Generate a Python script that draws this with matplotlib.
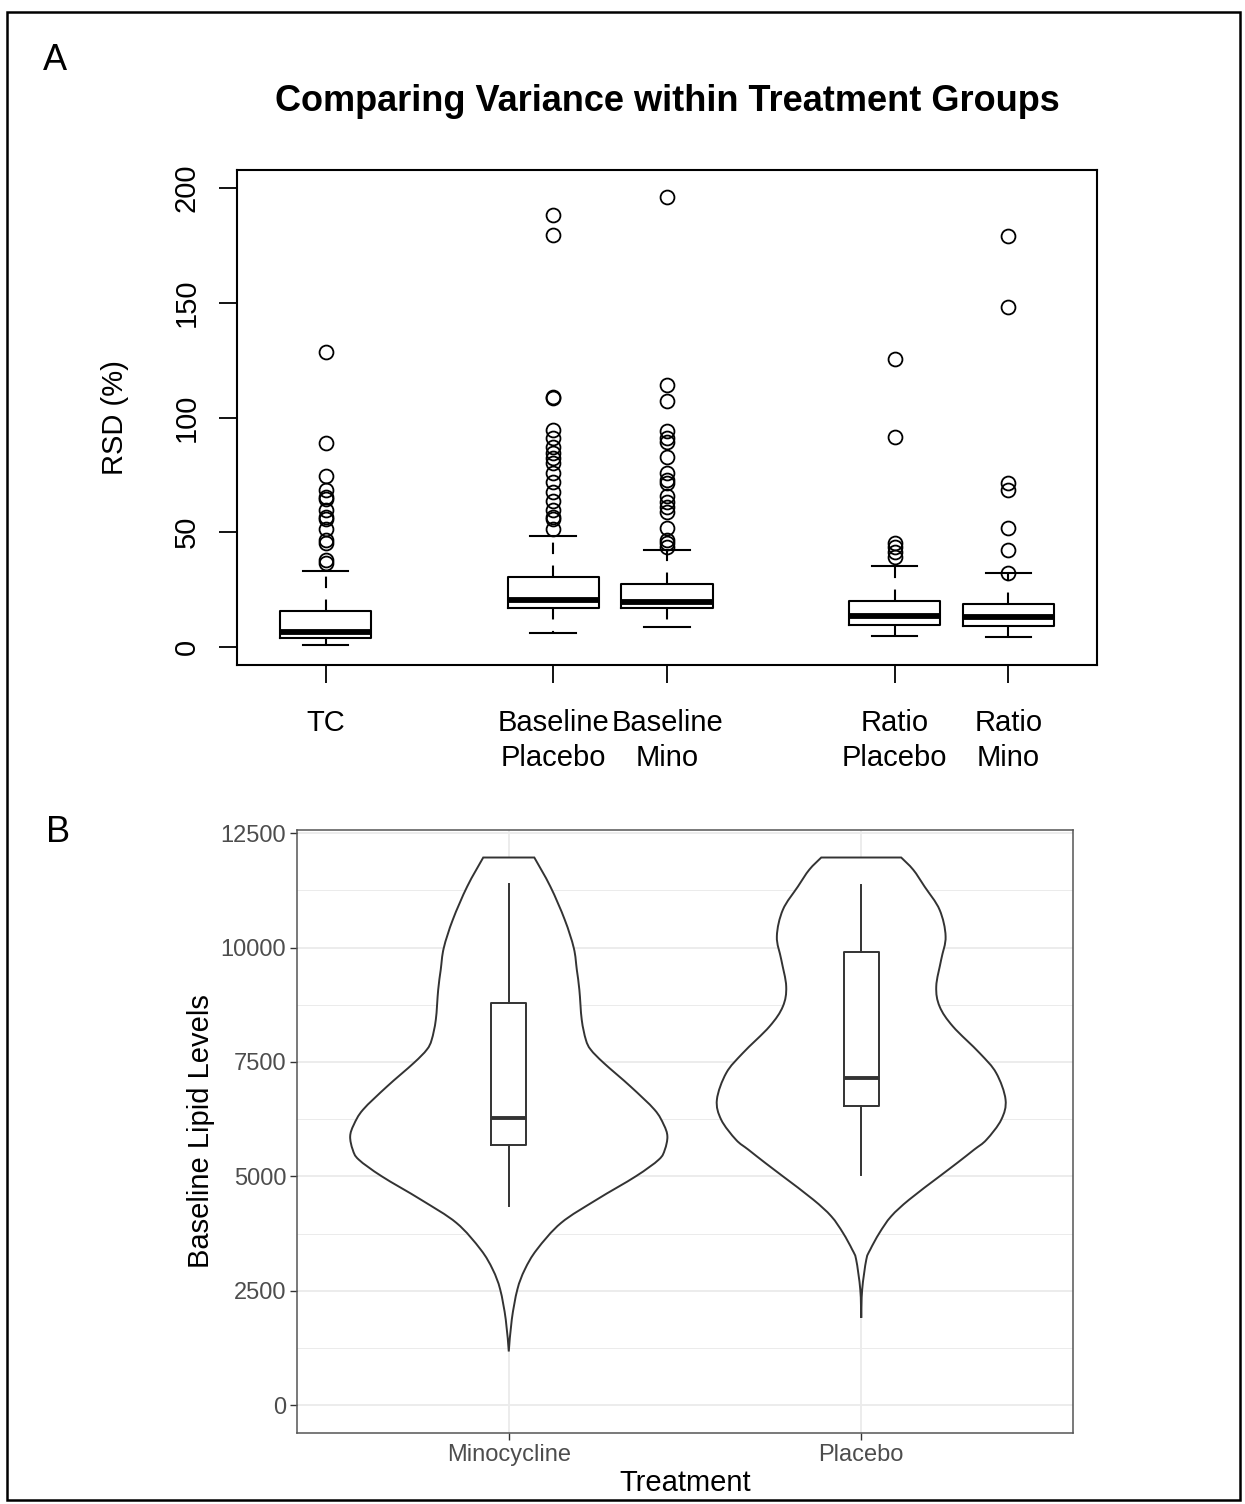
import matplotlib
matplotlib.use('Agg')
import matplotlib.pyplot as plt
import numpy as np
from matplotlib.patches import Rectangle, PathPatch
from matplotlib.path import Path
from matplotlib.ticker import FixedLocator

plt.rcParams['font.family'] = ['Liberation Sans', 'DejaVu Sans']

# ---------------- Panel A data (RSD %) ----------------
a_labels = ["TC", "Baseline\nPlacebo", "Baseline\nMino", "Ratio\nPlacebo", "Ratio\nMino"]
a_positions = [1, 3, 4, 6, 7]
# (whisker low, Q1, median, Q3, whisker high)
tc_box = [0.9, 3.9, 6.7, 15.7, 33.1]
bp_box = [6.2, 16.8, 20.5, 30.3, 48.3]
bm_box = [8.9, 16.8, 19.7, 27.3, 42.2]
rp_box = [4.9, 9.6, 13.6, 20.2, 35.3]
rm_box = [4.5, 9.1, 13.2, 18.6, 32.1]
tc_out = [36.4, 38.1, 45.4, 46.6, 51.3, 55.6, 56.8, 59.7, 64.3, 65.5, 68.4, 74.5, 88.7, 128.6]
bp_out = [51.3, 55.6, 56.8, 59.7, 63.7, 67.6, 72.0, 75.9, 80.0, 82.2, 84.4, 87.0, 90.9, 94.5,
          108.3, 109.0, 179.4, 188.2]
bm_out = [43.7, 45.2, 46.6, 51.7, 58.9, 61.1, 63.3, 65.8, 71.3, 72.7, 75.6, 82.9, 89.4, 90.9,
          94.3, 107.4, 114.1, 195.9]
rp_out = [39.3, 41.5, 43.7, 45.4, 91.3, 125.3]
rm_out = [32.4, 42.2, 51.7, 68.4, 71.3, 148.2, 179.0]
a_yticks = [0, 50, 100, 150, 200]

# ---------------- Panel B data (baseline lipid levels) ----------------
b_labels = ["Minocycline", "Placebo"]
b_positions = [1, 2]
mino_box = [4363, 5695, 6277, 8788, 11386]
plac_box = [5040, 6546, 7151, 9902, 11371]
mino_levels = [11967, 11334, 10607, 9989, 9515, 9079, 8424, 7987, 7769, 7478, 6967, 6458,
               6131, 5876, 5586, 5368, 5003, 4495, 3985, 3402, 2966, 2529, 1874, 1176]
mino_density = [0.161, 0.262, 0.353, 0.410, 0.429, 0.445, 0.460, 0.486, 0.517, 0.599, 0.767,
                0.919, 0.977, 1.0, 0.984, 0.946, 0.801, 0.555, 0.330, 0.177, 0.101, 0.054,
                0.019, 0.0]
plac_levels = [11967, 11699, 11334, 10826, 10243, 9734, 9151, 8714, 8277, 7697, 7260, 6677,
               6240, 5803, 5586, 5295, 5003, 4495, 4130, 3767, 3403, 3184, 2529, 1910]
plac_density = [0.252, 0.328, 0.399, 0.494, 0.532, 0.504, 0.473, 0.494, 0.578, 0.746, 0.851,
                0.910, 0.883, 0.790, 0.712, 0.605, 0.494, 0.303, 0.189, 0.115, 0.057, 0.032,
                0.006, 0.0]
b_yticks = [0, 2500, 5000, 7500, 10000, 12500]
b_yminor = [1250, 3750, 6250, 8750, 11250]

W, H = 1245, 1504
fig = plt.figure(figsize=(W / 100, H / 100), dpi=100)

# outer frame
fig.add_artist(Rectangle((7 / W, 1 - 1500 / H), (1240 - 7) / W, (1500 - 12) / H,
                         transform=fig.transFigure, fill=False, ec='black', lw=1.8))

# ---------------- Panel A ----------------
axA = fig.add_axes([237 / W, 1 - 665 / H, 860 / W, 495 / H])
boxes = [tc_box, bp_box, bm_box, rp_box, rm_box]
outs = [tc_out, bp_out, bm_out, rp_out, rm_out]
statsA = []
for lab, b, o in zip(a_labels, boxes, outs):
    statsA.append(dict(label=lab, whislo=b[0], q1=b[1], med=b[2], q3=b[3], whishi=b[4], fliers=o))
axA.bxp(statsA, positions=a_positions, widths=0.8, showfliers=True,
        boxprops=dict(color='black', lw=1.5),
        whiskerprops=dict(color='black', lw=1.5, linestyle=(0, (5.5, 5.5))),
        capprops=dict(color='black', lw=1.5),
        medianprops=dict(color='black', lw=4.2, solid_capstyle='butt'),
        flierprops=dict(marker='o', markerfacecolor='none', markeredgecolor='black',
                        markersize=10, markeredgewidth=1.3))
axA.set_xlim(0.22, 7.78)
axA.set_ylim(-7.84, 207.84)
axA.set_xticks(a_positions)
axA.set_xticklabels(a_labels)
axA.set_yticks(a_yticks)
axA.set_yticklabels([str(v) for v in a_yticks])
for s in axA.spines.values():
    s.set_linewidth(1.5)
axA.tick_params(axis='both', direction='out', length=13, width=1.3, labelsize=21, color='black')
axA.tick_params(axis='x', pad=19)
axA.tick_params(axis='y', pad=13)
for t in axA.get_yticklabels():
    t.set_rotation(90)
    t.set_va('center')
for t in axA.get_xticklabels():
    t.set_linespacing(1.3)

fig.text(115 / W, 1 - 418 / H, "RSD (%)", rotation=90, ha='center', va='center', fontsize=21)
fig.text(667 / W, 1 - 111 / H, "Comparing Variance within Treatment Groups", ha='center',
         va='baseline', fontsize=26, fontweight='bold')
fig.text(55 / W, 1 - 61 / H, "A", ha='center', va='center', fontsize=26)


# ---------------- Panel B ----------------
def smooth_side(pts):
    """Catmull-Rom through the given outline points, as cubic Bezier segments."""
    verts, codes = [], []
    n = len(pts)
    for i in range(n - 1):
        p0 = pts[i - 1] if i > 0 else pts[i]
        p1, p2 = pts[i], pts[i + 1]
        p3 = pts[i + 2] if i + 2 < n else pts[i + 1]
        c1 = p1 + (p2 - p0) / 6.0
        c2 = p2 - (p3 - p1) / 6.0
        verts += [c1, c2, p2]
        codes += [Path.CURVE4] * 3
    return verts, codes


axB = fig.add_axes([297.3 / W, 1 - 1432.7 / H, 775.4 / W, 602.7 / H])
for pos, lev, dens in zip(b_positions, [mino_levels, plac_levels], [mino_density, plac_density]):
    hw = np.array(dens) * 0.45
    lev = np.array(lev, dtype=float)
    right = np.column_stack([pos + hw, lev])
    left = np.column_stack([pos - hw, lev])[::-1]
    verts = [right[0]]
    codes = [Path.MOVETO]
    v, c = smooth_side(right)
    verts += v
    codes += c
    v, c = smooth_side(left)
    verts += v
    codes += c
    verts.append(right[0])
    codes.append(Path.CLOSEPOLY)
    patch = PathPatch(Path(np.array(verts), codes), facecolor='white', edgecolor='#333333',
                      lw=1.4, zorder=2, joinstyle='miter')
    axB.add_patch(patch)

statsB = []
for lab, b in zip(b_labels, [mino_box, plac_box]):
    statsB.append(dict(label=lab, whislo=b[0], q1=b[1], med=b[2], q3=b[3], whishi=b[4], fliers=[]))
axB.bxp(statsB, positions=b_positions, widths=0.1, showfliers=False, showcaps=False,
        boxprops=dict(color='#333333', lw=1.4),
        whiskerprops=dict(color='#333333', lw=1.4),
        medianprops=dict(color='#333333', lw=2.8, solid_capstyle='butt'),
        zorder=3)
axB.set_xlim(0.4, 2.6)
axB.set_ylim(-598, 12568)
axB.set_xticks(b_positions)
axB.set_xticklabels(b_labels)
axB.set_yticks(b_yticks)
axB.set_yticklabels([str(v) for v in b_yticks])
axB.yaxis.set_minor_locator(FixedLocator(b_yminor))
axB.set_axisbelow(True)
axB.grid(which='major', color='#EBEBEB', lw=1.3)
axB.grid(which='minor', axis='y', color='#EBEBEB', lw=0.7)
for s in axB.spines.values():
    s.set_linewidth(1.1)
    s.set_color('#555555')
axB.tick_params(axis='both', which='major', direction='out', length=5, width=1.0,
                color='#333333', labelcolor='#4D4D4D', labelsize=17, pad=3)
axB.tick_params(axis='y', which='minor', length=0)

fig.text(201 / W, 1 - 1131 / H, "Baseline Lipid Levels", rotation=90, ha='center', va='center',
         fontsize=21)
fig.text(685 / W, 1 - 1483 / H, "Treatment", ha='center', va='center', fontsize=21)
fig.text(58 / W, 1 - 832 / H, "B", ha='center', va='center', fontsize=26)

fig.savefig("out.png", dpi=100)
